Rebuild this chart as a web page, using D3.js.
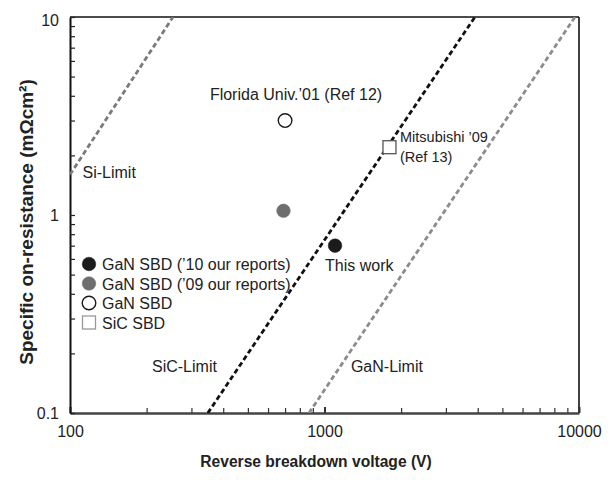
<!DOCTYPE html>
<html>
<head>
<meta charset="utf-8">
<script src="https://cdn.jsdelivr.net/npm/d3@7"></script>
<style>
  html, body { margin: 0; padding: 0; background: #fff; }
  svg { display: block; font-family: "Liberation Sans", Arial, Helvetica, sans-serif; }
</style>
</head>
<body>
<svg id="chart" width="616" height="480"></svg>
<script>
// Axis domains and labelled ticks
const xDomain = [100, 10000];
const yDomain = [0.1, 10];
const xTickLabels = [100, 1000, 10000];
const yTickLabels = [0.1, 1, 10];

// Theoretical material limits: two endpoints each, [voltage V, Ron mΩcm²]
const limitNames = ["Si-Limit", "SiC-Limit", "GaN-Limit"];
const limitStarts = [[100, 1.6], [348, 0.1], [869, 0.1]];
const limitEnds = [[254, 10], [3900, 10], [9640, 10]];
const limitColors = ["#7a7a7a", "#111111", "#8c8c8c"];
const limitLabelPos = [[112, 1.54], [210, 0.161], [1270, 0.161]];

// Device reports
const pointLabels = ["GaN SBD ('10 our reports)", "GaN SBD ('09 our reports)", "GaN SBD", "SiC SBD"];
const pointVoltage = [1100, 690, 700, 1800];
const pointRon = [0.7, 1.05, 3.0, 2.2];
const pointKinds = ["black", "gray", "open", "square"];

// Legend entries
const legendLabels = ["GaN SBD (\u201910 our reports)", "GaN SBD (\u201909 our reports)", "GaN SBD", "SiC SBD"];
const legendKinds = ["black", "gray", "open", "square"];

const svg = d3.select("#chart");
const m = { left: 70, right: 37, top: 17, bottom: 67 };
const W = 616, H = 480;

const x = d3.scaleLog().domain(xDomain).range([m.left, W - m.right]);
const y = d3.scaleLog().domain(yDomain).range([H - m.bottom, m.top]);

const fontSize = 16;

// Frame: top and right
svg.append("line").attr("x1", m.left).attr("x2", W - m.right).attr("y1", m.top).attr("y2", m.top)
  .attr("stroke", "#111").attr("stroke-width", 1.6);
svg.append("line").attr("x1", W - m.right).attr("x2", W - m.right).attr("y1", m.top).attr("y2", H - m.bottom)
  .attr("stroke", "#111").attr("stroke-width", 1.6);

// Minor + major ticks, pointing inward
const xTicks = x.ticks();
const yTicks = y.ticks();

const xAxis = d3.axisBottom(x).tickValues(xTicks).tickSizeInner(-5).tickSizeOuter(0)
  .tickFormat(d => xTickLabels.includes(d) ? d3.format("d")(d) : "");
const gx = svg.append("g").attr("transform", `translate(0,${H - m.bottom})`).call(xAxis);
gx.select(".domain").attr("stroke", "#444").attr("stroke-width", 2.5);
gx.selectAll(".tick line").attr("stroke", "#333").attr("stroke-width", d => xTickLabels.includes(d) ? 2 : 1.2)
  .attr("y2", d => xTickLabels.includes(d) ? -6 : -5);
gx.selectAll(".tick text").attr("y", 13).attr("font-size", fontSize).attr("fill", "#222")
  .attr("font-family", "Liberation Sans, Arial, sans-serif");

const yAxis = d3.axisLeft(y).tickValues(yTicks).tickSizeInner(-5).tickSizeOuter(0)
  .tickFormat(d => yTickLabels.includes(d) ? String(d) : "");
const gy = svg.append("g").attr("transform", `translate(${m.left},0)`).call(yAxis);
gy.select(".domain").attr("stroke", "#111").attr("stroke-width", 2);
gy.selectAll(".tick line").attr("stroke", "#222").attr("stroke-width", 1.2);
gy.selectAll(".tick text").attr("x", -11).attr("font-size", fontSize).attr("fill", "#222")
  .attr("font-family", "Liberation Sans, Arial, sans-serif")
  .attr("dy", d => d === 10 ? "0.55em" : "0.32em");

// Clip for limit lines
svg.append("clipPath").attr("id", "plotClip").append("rect")
  .attr("x", m.left).attr("y", m.top).attr("width", W - m.left - m.right).attr("height", H - m.top - m.bottom);

const line = d3.line().x(d => x(d[0])).y(d => y(d[1]));
const gl = svg.append("g").attr("clip-path", "url(#plotClip)");
limitNames.forEach((name, i) => {
  gl.append("path")
    .attr("d", line([limitStarts[i], limitEnds[i]]))
    .attr("fill", "none")
    .attr("stroke", limitColors[i])
    .attr("stroke-width", 2.8)
    .attr("stroke-dasharray", "5,3");
});
limitNames.forEach((name, i) => {
  svg.append("text").attr("x", x(limitLabelPos[i][0])).attr("y", y(limitLabelPos[i][1]))
    .attr("font-size", fontSize).attr("fill", "#222").text(name);
});

// Marker drawing
function drawMarker(g, kind, cx, cy) {
  if (kind === "square") {
    g.append("rect").attr("x", cx - 6.5).attr("y", cy - 6.5).attr("width", 13).attr("height", 13)
      .attr("fill", "#fff").attr("stroke", "#555").attr("stroke-width", 1.3);
  } else {
    const fill = kind === "black" ? "#1b1b1b" : kind === "gray" ? "#6e6e6e" : "#fff";
    const stroke = kind === "open" ? "#1b1b1b" : fill;
    g.append("circle").attr("cx", cx).attr("cy", cy).attr("r", 6.8)
      .attr("fill", fill).attr("stroke", stroke).attr("stroke-width", kind === "open" ? 1.4 : 0.5);
  }
}

const gp = svg.append("g");
pointVoltage.forEach((v, i) => drawMarker(gp, pointKinds[i], x(v), y(pointRon[i])));

// Point annotations
svg.append("text").attr("x", 296).attr("y", 100).attr("text-anchor", "middle")
  .attr("font-size", fontSize).attr("fill", "#222").text("Florida Univ.\u201901 (Ref 12)");
svg.append("text").attr("x", 400).attr("y", 142).attr("font-size", 14.5).attr("fill", "#222").text("Mitsubishi \u201909");
svg.append("text").attr("x", 400).attr("y", 162).attr("font-size", 14.5).attr("fill", "#222").text("(Ref 13)");
svg.append("text").attr("x", 325).attr("y", 271).attr("font-size", fontSize).attr("fill", "#222").text("This work");

// Legend
const gLeg = svg.append("g");
legendLabels.forEach((t, i) => {
  const ly = 264 + i * 19.5;
  if (legendKinds[i] === "square") {
    gLeg.append("rect").attr("x", 89 - 6.5).attr("y", ly - 6.5).attr("width", 13).attr("height", 13)
      .attr("fill", "#fff").attr("stroke", "#999").attr("stroke-width", 1.3);
  } else {
    drawMarker(gLeg, legendKinds[i], 89, ly);
  }
  gLeg.append("text").attr("x", 102).attr("y", ly + 6).attr("font-size", fontSize).attr("fill", "#222").text(t);
});

// Axis titles
svg.append("text").attr("x", 316).attr("y", 467).attr("text-anchor", "middle")
  .attr("font-size", 15.6).attr("font-weight", "bold").attr("fill", "#222")
  .text("Reverse breakdown voltage (V)");
svg.append("text").attr("transform", "translate(33,222) rotate(-90)").attr("text-anchor", "middle")
  .attr("font-size", 19).attr("font-weight", "bold").attr("fill", "#222")
  .text("Specific on-resistance (m\u03A9cm\u00B2)");
</script>
</body>
</html>
